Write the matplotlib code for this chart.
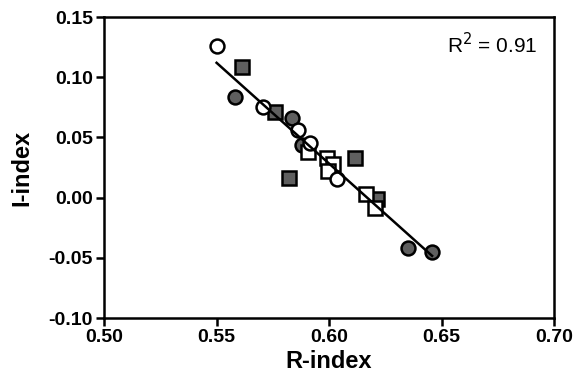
import numpy as np
import matplotlib.pyplot as plt

plt.rcParams['font.family'] = ['Liberation Sans', 'DejaVu Sans']

# open circles
oc_r = [0.550, 0.5707, 0.5862, 0.5916, 0.6036]
oc_i = [0.126, 0.0756, 0.0565, 0.0457, 0.0158]
# filled circles
fc_r = [0.5582, 0.5836, 0.5880, 0.6351, 0.6458]
fc_i = [0.0839, 0.0664, 0.0440, -0.0415, -0.0449]
# filled squares
fs_r = [0.5613, 0.5760, 0.5822, 0.6116, 0.6213]
fs_i = [0.1088, 0.0714, 0.0166, 0.0332, -0.0008]
# open squares
os_r = [0.5907, 0.5991, 0.6018, 0.5996, 0.6164, 0.6204]
os_i = [0.0382, 0.0332, 0.0282, 0.0224, 0.0033, -0.0083]

r2_text = "R$^2$ = 0.91"

fig = plt.figure(figsize=(5.85, 3.87), dpi=100)
ax = fig.add_axes([0.178, 0.178, 0.769, 0.778])

gray = "#5f5f5f"
ms = 10
mew = 1.8
ax.plot(fs_r, fs_i, 's', ms=ms, mfc=gray, mec='black', mew=mew, zorder=3)
ax.plot(fc_r, fc_i, 'o', ms=ms, mfc=gray, mec='black', mew=mew, zorder=3)
ax.plot(os_r, os_i, 's', ms=ms, mfc='white', mec='black', mew=mew, zorder=3)
ax.plot(oc_r, oc_i, 'o', ms=ms, mfc='white', mec='black', mew=mew, zorder=3)

# linear fit through all points
all_r = np.array(oc_r + fc_r + fs_r + os_r)
all_i = np.array(oc_i + fc_i + fs_i + os_i)
slope, icpt = np.polyfit(all_r, all_i, 1)
xl = np.array([all_r.min(), all_r.max()])
ax.plot(xl, slope * xl + icpt, color='black', lw=1.8, zorder=4)

ax.set_xlim(0.50, 0.70)
ax.set_ylim(-0.10, 0.15)
ax.set_xticks([0.50, 0.55, 0.60, 0.65, 0.70])
ax.set_yticks([-0.10, -0.05, 0.00, 0.05, 0.10, 0.15])
ax.set_xticklabels(["0.50", "0.55", "0.60", "0.65", "0.70"])
ax.set_yticklabels(["-0.10", "-0.05", "0.00", "0.05", "0.10", "0.15"])

for s in ax.spines.values():
    s.set_linewidth(1.8)
ax.tick_params(direction='out', length=6, width=1.8, labelsize=14, pad=2)
for lab in ax.get_xticklabels() + ax.get_yticklabels():
    lab.set_fontweight('bold')

ax.set_xlabel("R-index", fontsize=17, fontweight='bold', labelpad=3)
ax.set_ylabel("I-index", fontsize=17, fontweight='bold', labelpad=11)

ax.text(0.964, 0.907, r2_text, transform=ax.transAxes, ha='right', va='center', fontsize=15)

fig.savefig("out.png", dpi=100)
